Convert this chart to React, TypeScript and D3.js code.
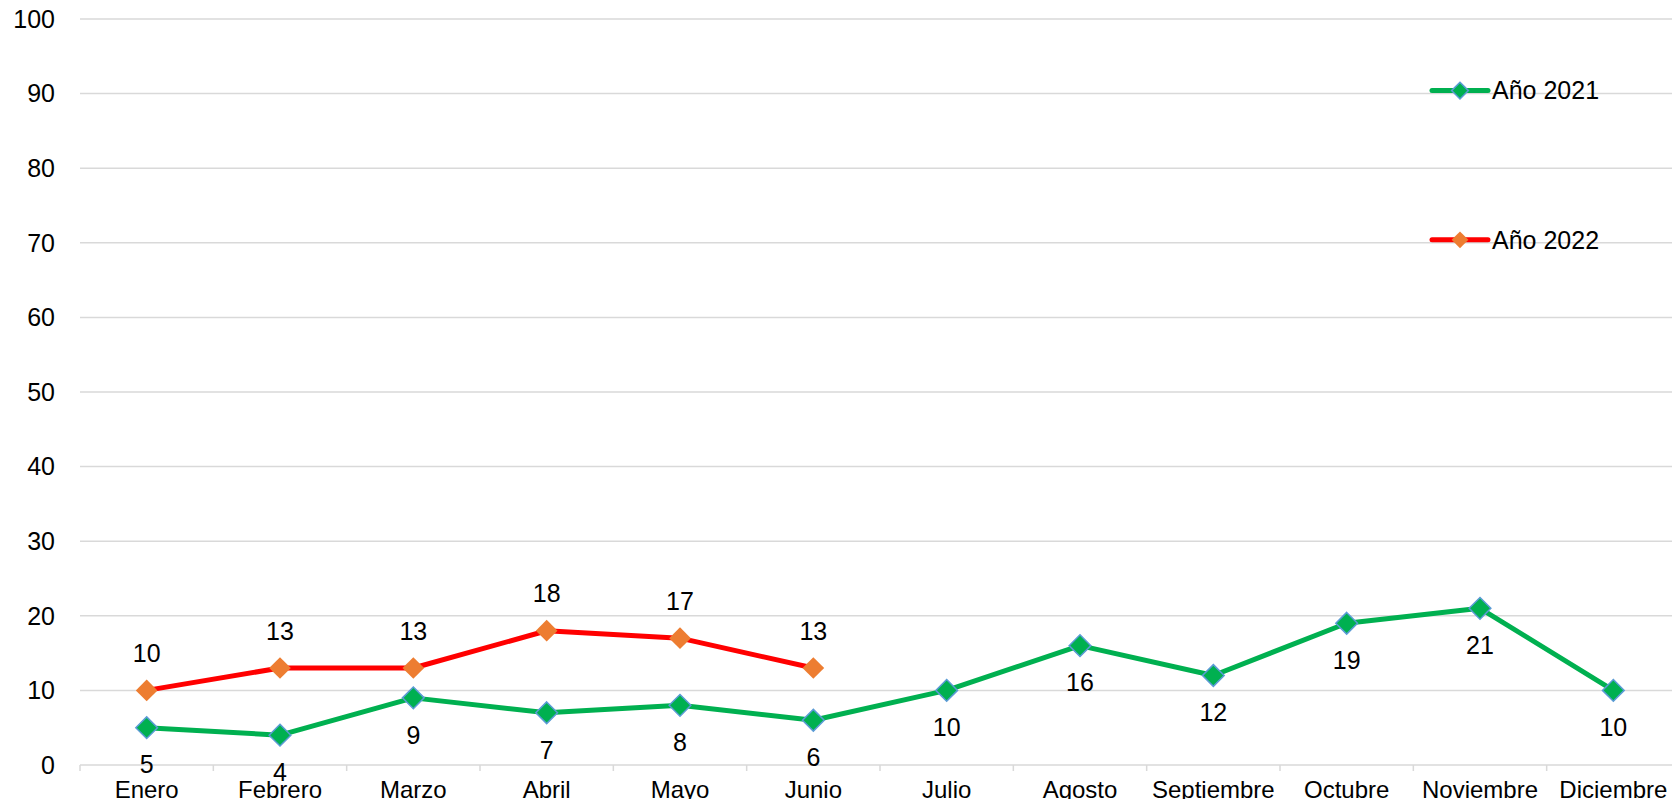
import * as d3 from 'd3';
import React, { useEffect, useRef } from 'react';

const months = [
  'Enero', 'Febrero', 'Marzo', 'Abril', 'Mayo', 'Junio',
  'Julio', 'Agosto', 'Septiembre', 'Octubre', 'Noviembre', 'Diciembre',
];
const values2021 = [5, 4, 9, 7, 8, 6, 10, 16, 12, 19, 21, 10];
const values2022 = [10, 13, 13, 18, 17, 13];
const yTicks = [0, 10, 20, 30, 40, 50, 60, 70, 80, 90, 100];

const series = [
  { name: 'Año 2021', values: values2021, line: '#00B050', fill: '#00B050', stroke: '#5B9BD5', labelDy: 37 },
  { name: 'Año 2022', values: values2022, line: '#FF0000', fill: '#ED7D31', stroke: 'none', labelDy: -37 },
];

const App: React.FC = () => {
  const svgRef = useRef<SVGSVGElement | null>(null);

  useEffect(() => {
    const width = 1680;
    const height = 807;
    const margin = { top: 19, right: 0, bottom: 42, left: 80 };
    const font = 'Arial, "Liberation Sans", sans-serif';

    const svg = d3.select(svgRef.current);
    svg.selectAll('*').remove();
    svg.attr('width', width).attr('height', height).style('display', 'block');

    const x = d3
      .scaleBand<string>()
      .domain(months)
      .range([margin.left, width - margin.right]);

    const y = d3
      .scaleLinear()
      .domain([0, 100])
      .range([height - margin.bottom, margin.top]);

    // gridlines
    svg
      .append('g')
      .selectAll('line')
      .data(yTicks)
      .join('line')
      .attr('x1', margin.left)
      .attr('x2', width - margin.right)
      .attr('y1', (d) => y(d))
      .attr('y2', (d) => y(d))
      .attr('stroke', '#D9D9D9')
      .attr('stroke-width', 1.5);

    // y labels
    svg
      .append('g')
      .selectAll('text')
      .data(yTicks)
      .join('text')
      .attr('x', 55)
      .attr('y', (d) => y(d))
      .attr('dy', '0.35em')
      .attr('text-anchor', 'end')
      .attr('font-family', font)
      .attr('font-size', 25)
      .attr('fill', '#000')
      .text((d) => d);

    // x tick marks
    const xTickPos = months.map((m) => x(m)!).concat([width - margin.right]);
    svg
      .append('g')
      .selectAll('line')
      .data(xTickPos)
      .join('line')
      .attr('x1', (d) => d)
      .attr('x2', (d) => d)
      .attr('y1', y(0))
      .attr('y2', y(0) + 6)
      .attr('stroke', '#D9D9D9')
      .attr('stroke-width', 1.5);

    // x labels
    svg
      .append('g')
      .selectAll('text')
      .data(months)
      .join('text')
      .attr('x', (d) => x(d)! + x.bandwidth() / 2)
      .attr('y', y(0) + 33)
      .attr('text-anchor', 'middle')
      .attr('font-family', font)
      .attr('font-size', 24)
      .attr('fill', '#000')
      .text((d) => d);

    const diamond = d3.symbol().type(d3.symbolDiamond2).size(300);
    const cx = (i: number) => x(months[i])! + x.bandwidth() / 2;

    series.forEach((s) => {
      const line = d3
        .line<number>()
        .x((_, i) => cx(i))
        .y((d) => y(d));

      svg
        .append('path')
        .datum(s.values)
        .attr('fill', 'none')
        .attr('stroke', s.line)
        .attr('stroke-width', 5)
        .attr('stroke-linejoin', 'round')
        .attr('d', line);

      svg
        .append('g')
        .selectAll('path')
        .data(s.values)
        .join('path')
        .attr('transform', (d, i) => `translate(${cx(i)},${y(d)})`)
        .attr('d', diamond)
        .attr('fill', s.fill)
        .attr('stroke', s.stroke)
        .attr('stroke-width', 1.5);

      svg
        .append('g')
        .selectAll('text')
        .data(s.values)
        .join('text')
        .attr('x', (_, i) => cx(i))
        .attr('y', (d) => y(d) + s.labelDy)
        .attr('dy', '0.35em')
        .attr('text-anchor', 'middle')
        .attr('font-family', font)
        .attr('font-size', 25)
        .attr('fill', '#000')
        .text((d) => d);
    });

    // legend
    const legendY = [y(90) - 3, y(70) - 3];
    series.forEach((s, i) => {
      const g = svg.append('g').attr('transform', `translate(1432,${legendY[i]})`);
      g.append('line')
        .attr('x1', 0)
        .attr('x2', 56)
        .attr('stroke', s.line)
        .attr('stroke-width', 5)
        .attr('stroke-linecap', 'round');
      g.append('path')
        .attr('transform', 'translate(28,0)')
        .attr('d', d3.symbol().type(d3.symbolDiamond2).size(180))
        .attr('fill', s.fill)
        .attr('stroke', s.stroke)
        .attr('stroke-width', 1.5);
      g.append('text')
        .attr('x', 60)
        .attr('dy', '0.35em')
        .attr('font-family', font)
        .attr('font-size', 25)
        .attr('fill', '#000')
        .text(s.name);
    });
  }, []);

  return (
    <div style={{ margin: -8 }}>
      <svg ref={svgRef}></svg>
    </div>
  );
};

export default App;
